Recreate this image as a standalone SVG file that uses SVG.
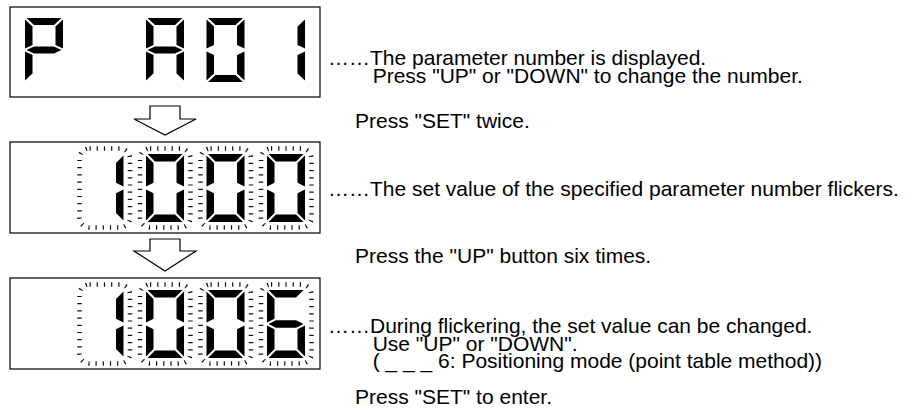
<svg xmlns="http://www.w3.org/2000/svg" width="912" height="419" viewBox="0 0 912 419">
<style>
.box{fill:#fff;stroke:#000;stroke-width:1.2}
.seg{fill:#000}
.flk{fill:none;stroke:#111;stroke-width:4.5;stroke-dasharray:1.2 6}
.arr{fill:#fff;stroke:#000;stroke-width:1.2;stroke-linejoin:miter}
.t{font-family:"Liberation Sans",Arial,sans-serif;font-size:21px;fill:#000}
</style>
<defs>
<polygon id="sa" class="seg" points="1.5,0 36.5,0 29,7.5 9,7.5"/>
<polygon id="sb" class="seg" points="38,1.5 30.5,9 30.5,28.75 38,32.5"/>
<polygon id="sc" class="seg" points="38,35.5 30.5,39.25 30.5,59 38,66.5"/>
<polygon id="sd" class="seg" points="1.5,68 36.5,68 29,60.5 9,60.5"/>
<polygon id="se" class="seg" points="0,35.5 7.5,39.25 7.5,59 0,66.5"/>
<polygon id="sf" class="seg" points="0,1.5 7.5,9 7.5,28.75 0,32.5"/>
<polygon id="sg" class="seg" points="1.5,34 9,30.25 29,30.25 36.5,34 29,37.75 9,37.75"/>
<g id="d1"><use href="#sb"/><use href="#sc"/></g>
<g id="d0"><use href="#sa"/><use href="#sb"/><use href="#sc"/><use href="#sd"/><use href="#se"/><use href="#sf"/></g>
<g id="d6"><use href="#sa"/><use href="#sc"/><use href="#sd"/><use href="#se"/><use href="#sf"/><use href="#sg"/></g>
<g id="dP"><use href="#sa"/><use href="#sb"/><use href="#se"/><use href="#sf"/><use href="#sg"/></g>
<g id="dA"><use href="#sa"/><use href="#sb"/><use href="#sc"/><use href="#se"/><use href="#sf"/><use href="#sg"/></g>
</defs>

<g id="display1">
<rect class="box" x="10" y="7" width="310" height="90"/>
<use href="#dP" transform="translate(25,18) scale(1,0.941)"/>
<use href="#dA" transform="translate(146,18) scale(1,0.941)"/>
<use href="#d0" transform="translate(206.5,18) scale(1,0.941)"/>
<use href="#d1" transform="translate(267,18) scale(1,0.941)"/>
</g>

<g id="display2">
<rect class="box" x="10" y="142" width="310" height="91"/>
<rect class="flk" x="79.5" y="148.5" width="50.5" height="79" rx="10"/>
<rect class="flk" x="140" y="148.5" width="50.5" height="79" rx="10"/>
<rect class="flk" x="200.5" y="148.5" width="50.5" height="79" rx="10"/>
<rect class="flk" x="261" y="148.5" width="50.5" height="79" rx="10"/>
<use href="#d1" transform="translate(85.5,154)"/>
<use href="#d0" transform="translate(146,154)"/>
<use href="#d0" transform="translate(206.5,154)"/>
<use href="#d0" transform="translate(267,154)"/>
</g>

<g id="display3">
<rect class="box" x="10" y="278" width="310" height="91"/>
<rect class="flk" x="79.5" y="284.5" width="50.5" height="79" rx="10"/>
<rect class="flk" x="140" y="284.5" width="50.5" height="79" rx="10"/>
<rect class="flk" x="200.5" y="284.5" width="50.5" height="79" rx="10"/>
<rect class="flk" x="261" y="284.5" width="50.5" height="79" rx="10"/>
<use href="#d1" transform="translate(85.5,290)"/>
<use href="#d0" transform="translate(146,290)"/>
<use href="#d0" transform="translate(206.5,290)"/>
<use href="#d6" transform="translate(267,290)"/>
</g>

<g id="connectors">
<polygon class="arr" points="150,106 180,106 180,119 196,119 165,135 134,119 150,119 150,106"/>
<polygon class="arr" points="150,239 180,239 180,251 196,251 165,271 134,251 150,251 150,239"/>
</g>

<g id="notes">
<text class="t" x="328" y="65">……The parameter number is displayed.</text>
<text class="t" x="372.7" y="82.5">Press "UP" or "DOWN" to change the number.</text>
<text class="t" x="355" y="128">Press "SET" twice.</text>
<text class="t" x="328" y="196">……The set value of the specified parameter number flickers.</text>
<text class="t" x="355" y="263">Press the "UP" button six times.</text>
<text class="t" x="328" y="333">……During flickering, the set value can be changed.</text>
<text class="t" x="372.7" y="350.5">Use "UP" or "DOWN".</text>
<text class="t" x="372.7" y="368">( _ _ _ 6: Positioning mode (point table method))</text>
<text class="t" x="355" y="404">Press "SET" to enter.</text>
</g>
</svg>
